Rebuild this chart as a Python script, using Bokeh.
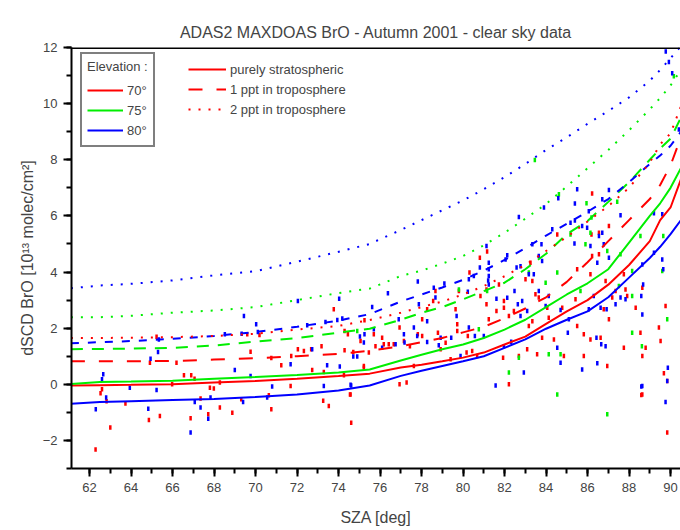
from bokeh.plotting import figure
from bokeh.models import Legend, LegendItem, Span, SingleIntervalTicker, Range1d
from bokeh.embed import file_html
from bokeh.resources import INLINE

# ---- model curves (SZA grid) ----
sza_model = [61.1, 62.5, 64, 66, 68, 70, 72, 74, 75.5, 77, 78, 79, 80, 81, 82, 83, 84, 85, 86, 87, 88, 89, 89.5, 90, 90.5]
red_strat = [-0.04, -0.03, -0.02, 0.0, 0.06, 0.12, 0.2, 0.3, 0.38, 0.6, 0.7, 0.82, 0.95, 1.13, 1.42, 1.7, 2.15, 2.6, 3.0, 3.55, 4.25, 5.1, 5.85, 6.3, 7.3]
green_strat = [0.01, 0.08, 0.1, 0.13, 0.2, 0.26, 0.33, 0.42, 0.53, 0.85, 1.05, 1.25, 1.42, 1.65, 1.95, 2.3, 2.75, 3.2, 3.6, 4.1, 5.05, 6.0, 6.45, 7.0, 7.7]
blue_strat = [-0.69, -0.63, -0.6, -0.56, -0.52, -0.45, -0.36, -0.22, -0.04, 0.3, 0.48, 0.65, 0.82, 1.0, 1.3, 1.6, 1.98, 2.3, 2.6, 3.1, 3.8, 4.5, 4.9, 5.35, 5.85]
red_1ppt = [0.82, 0.82, 0.82, 0.83, 0.88, 0.93, 1.0, 1.08, 1.2, 1.35, 1.5, 1.65, 1.85, 2.05, 2.35, 2.7, 3.1, 3.65, 4.35, 5.1, 5.85, 6.6, 7.1, 7.8, 8.8]
green_1ppt = [1.25, 1.26, 1.27, 1.3, 1.38, 1.52, 1.65, 1.84, 1.98, 2.3, 2.55, 2.75, 3.03, 3.32, 3.62, 4.1, 4.65, 5.35, 5.82, 6.5, 7.2, 8.0, 8.4, 8.75, 9.5]
blue_1ppt = [1.46, 1.5, 1.54, 1.62, 1.72, 1.86, 2.05, 2.27, 2.5, 2.95, 3.2, 3.45, 3.72, 4.05, 4.43, 4.85, 5.3, 5.72, 6.15, 6.6, 7.2, 7.85, 8.15, 8.5, 9.0]
red_2ppt = [1.65, 1.65, 1.66, 1.68, 1.72, 1.8, 1.95, 2.08, 2.29, 2.55, 2.75, 2.95, 3.2, 3.5, 3.85, 4.25, 4.75, 5.25, 5.8, 6.35, 7.0, 7.9, 8.55, 8.94, 9.9]
green_2ppt = [2.39, 2.39, 2.44, 2.55, 2.63, 2.75, 3.0, 3.25, 3.41, 3.86, 4.05, 4.3, 4.57, 4.95, 5.4, 5.9, 6.42, 7.05, 7.7, 8.35, 9.05, 9.8, 10.2, 10.65, 11.2]
blue_2ppt = [3.42, 3.52, 3.58, 3.7, 3.88, 4.03, 4.37, 4.72, 5.0, 5.5, 5.85, 6.2, 6.55, 6.95, 7.38, 7.85, 8.35, 8.8, 9.28, 9.74, 10.22, 10.82, 11.2, 11.62, 12.05]

# ---- measured dSCDs ----
red_sza = [62.29, 63.0, 62.82, 62.6, 62.53, 63.73, 65.39, 64.86, 65.23, 64.91, 66.19, 66.55, 66.9, 67.06, 67.35, 66.87,
           67.72, 67.8, 67.99, 68.28, 68.88, 69.31, 69.76, 69.6, 70.19, 68.28, 65.98, 73.77, 75.25, 74.29, 74.45, 75.06,
           74.71, 74.29, 73.18, 72.68, 72.33, 72.04, 71.72, 71.24, 70.76, 71.69, 72.73, 73.29, 73.26, 73.53, 74.61, 74.55,
           74.26, 70.76, 70.64, 75.22, 74.58, 75.22, 75.7, 75.46, 75.78, 76.1, 76.18, 76.42, 76.66, 76.94, 76.94, 77.28,
           77.44, 77.15, 77.63, 77.82, 78.03, 78.56, 78.27, 78.03, 78.67, 78.79, 78.92, 79.16, 79.64, 79.72, 79.72, 79.4,
           79.8, 80.31, 80.23, 80.44, 80.81, 80.84, 81.13, 81.24, 81.13, 81.16, 81.61, 81.97, 81.97, 82.21, 82.45, 81.73,
           82.21, 81.93, 80.68, 80.17, 84.54, 83.25, 83.01, 83.34, 83.49, 83.65, 84.06, 84.13, 84.78, 83.34, 83.17, 83.81,
           83.57, 83.09, 84.38, 84.86, 85.5, 85.42, 85.5, 86.14, 86.22, 86.19, 86.55, 87.03, 86.87, 87.19, 87.35, 86.78,
           87.03, 86.63, 86.14, 85.82, 85.82, 86.55, 87.75, 87.91, 88.32, 87.75, 87.83, 88.64, 88.55, 88.8, 88.64, 88.64,
           89.44, 89.52, 89.68, 89.84, 89.76, 86.22, 82.69, 86.95, 89.84, 88.59]
red_dscd = [-2.32, -1.54, -0.6, -0.18, -0.32, -0.68, -1.13, -1.27, 1.69, 0.77, 0.77, 0.32, 0.32, 0.2, -0.51, -1.21,
            -1.07, -0.12, -0.15, -0.83, -1.01, -0.53, 1.16, 1.78, 1.76, 0.06, 0.0, 2.67, 2.28, 1.9, 1.78, 1.54,
            1.15, 1.21, 1.36, 1.25, 1.19, 1.25, 1.01, 0.68, 0.94, -0.06, 0.51, 0.44, -0.59, -0.77, -1.37, -0.36,
            0.32, -0.89, -0.39, 0.59, -0.36, 0.65, 1.78, 1.13, 1.36, 1.66, 1.43, 1.43, 1.43, 2.02, 0.0, 0.06,
            1.36, 1.54, 0.65, 1.78, 1.72, 2.97, 2.67, 2.32, 3.32, 1.84, 1.25, 1.48, 2.67, 2.14, 1.9, 0.89,
            3.32, 3.98, 1.72, 1.19, 4.51, 3.15, 2.85, 2.32, 3.38, 4.73, 2.61, 2.97, 2.73, 2.43, 2.61, 3.56,
            0.0, 0.95, 1.01, 1.13, 5.34, 4.33, 3.74, 3.68, 3.21, 3.09, 2.73, 2.37, 2.73, 2.25, 2.08, 1.66,
            1.07, 1.25, 1.6, 1.01, 2.08, 3.03, 4.1, 3.92, 4.57, 5.34, 5.4, 5.64, 3.68, 3.09, 3.32, 2.67,
            2.32, 1.66, 1.6, 1.78, 1.01, 4.63, 3.92, 3.15, 2.73, 1.3, 3.38, 3.44, 1.84, 1.3, 1.01, -0.36,
            2.02, 1.54, 0.39, 0.12, 2.79, 6.8, 1.01, 0.65, -1.72, -0.38]

green_sza = [82.21, 81.16, 80.76, 82.69, 79.8, 86.95, 87.59, 88.15, 88.55, 89.65, 89.84, 89.6, 88.15, 87.51, 85.66,
             83.98, 83.17, 84.54, 85.9, 86.14, 85.18, 84.13, 84.7, 84.54, 86.95, 88.62, 88.15, 83.46, 84.62, 85.95,
             86.19, 87.43, 90.16, 74.9]
green_dscd = [0.42, 3.32, 1.96, 0.95, 3.38, 4.75, 4.63, 4.04, 5.28, 5.28, 2.32, 4.04, 3.15, 3.5, 3.32,
              3.62, 3.98, 3.98, 4.99, 5.4, 5.34, 1.07, 1.07, -0.36, -1.07, 1.36, 1.84, 7.99, 6.77, 6.45,
              5.94, 6.5, 10.98, 1.9]

blue_sza = [62.66, 62.6, 62.3, 62.8, 63.94, 65.23, 64.83, 64.94, 65.3, 65.34, 66.87, 67.35, 67.72, 67.83, 67.07,
            69.0, 69.4, 69.76, 69.44, 70.03, 70.11, 69.33, 68.52, 70.56, 70.8, 72.04, 71.69, 72.73, 73.45, 74.06,
            73.29, 74.61, 74.71, 74.9, 75.03, 74.03, 74.18, 73.94, 73.37, 72.49, 74.58, 77.82, 76.38, 78.59, 79.1,
            80.28, 80.52, 80.81, 81.24, 81.13, 81.24, 81.24, 81.24, 80.23, 82.05, 82.13, 82.58, 82.64, 82.48, 81.61,
            82.13, 75.62, 75.25, 75.22, 75.7, 76.1, 76.9, 77.15, 77.18, 77.63, 77.87, 78.27, 78.27, 78.67, 78.92,
            79.43, 79.69, 79.88, 80.28, 80.57, 81.0, 81.21, 81.57, 81.97, 82.32, 78.83, 77.79, 76.75, 83.34, 83.78,
            82.77, 83.17, 83.41, 83.09, 82.85, 82.77, 83.65, 84.13, 83.98, 84.7, 85.05, 84.54, 84.7, 85.1, 85.37,
            85.39, 85.74, 85.98, 86.55, 86.78, 87.03, 86.14, 86.06, 86.3, 86.63, 86.92, 86.43, 86.66, 86.87, 85.74,
            86.47, 87.35, 87.59, 87.83, 88.64, 88.59, 88.68, 88.64, 88.64, 89.6, 89.76, 89.87, 89.65, 89.2, 86.71,
            85.18, 84.3, 83.81, 83.65, 86.47, 87.03, 84.59, 85.5, 86.71, 86.06, 85.39, 83.9, 82.69, 89.2, 89.6,
            87.59, 90.08, 89.92, 89.77, 90.4, 82.93, 88.59, 89.84]
blue_dscd = [0.36, 0.18, -0.89, -0.47, -0.12, -0.2, -0.87, 0.91, 1.15, 1.6, -1.72, -0.83, -1.23, -0.47, -0.63,
             0.51, -0.63, 0.3, 2.43, 2.14, 1.86, 1.8, 1.78, -0.47, -0.08, 2.97, 0.71, 1.25, 0.68, 0.63,
             -0.06, -0.04, 0.99, 0.99, 1.7, 3.05, 2.34, 2.29, 2.22, 2.1, -0.02, 3.66, 3.24, 3.44, 3.59,
             3.74, 3.86, 4.16, 4.33, 4.93, 4.1, 3.86, 3.56, 3.3, 4.45, 4.6, 4.16, 2.85, 3.32, 3.05,
             3.08, 2.75, 1.78, 1.49, 1.96, 1.3, 2.32, 1.78, 1.49, 2.02, 2.85, 2.25, 1.51, 3.09, 1.66,
             1.66, 2.43, 1.01, 2.02, 1.72, 1.72, 3.7, -0.04, 1.36, 1.52, 1.39, 1.72, 1.43, 4.99, 4.99,
             4.21, 3.92, 3.92, 2.61, 2.97, 2.43, 3.32, 3.15, 2.79, 2.65, 1.84, 1.3, 0.77, 2.32, 5.02,
             5.84, 5.64, 5.58, 5.28, 4.99, 4.51, 4.93, 2.67, 3.15, 2.73, 2.67, 1.66, 1.43, 1.36, 0.53,
             0.75, 2.85, 3.09, 3.03, 2.49, 3.15, 3.56, -0.06, 4.27, 4.45, -0.63, 0.59, 4.1, 4.69, 5.4,
             5.76, 5.52, 4.39, 4.57, 4.33, 6.92, 6.63, 6.95, 6.59, 6.17, 6.44, 6.3, 5.96, 6.09, 6.06,
             6.02, 11.08, 11.48, 11.86, 9.08, 0.42, -0.08, 0.12]

x_ticks_interval = 2
y_ticks_interval = 2
title_text = "ADAS2 MAXDOAS BrO - Autumn 2001 - clear sky data"
x_label = "SZA [deg]"
y_label = "dSCD BrO [10¹³ molec/cm²]"
elev_labels = ["70°", "75°", "80°"]
case_labels = ["purely stratospheric", "1 ppt in troposphere", "2 ppt in troposphere"]

RED, GREEN, BLUE = "#ff0000", "#00ee00", "#0000ff"
FONT = "Liberation Sans"

p = figure(width=680, height=530, output_backend="svg", toolbar_location=None,
           x_range=Range1d(61.13, 90.48), y_range=Range1d(-3, 12),
           min_border_left=71, min_border_right=0, min_border_top=47, min_border_bottom=62,
           title=title_text)
p.background_fill_color = "white"
p.border_fill_color = "white"
p.outline_line_color = None
p.grid.visible = False

p.title.align = "center"
p.title.text_font = FONT
p.title.text_font_size = "16px"
p.title.text_font_style = "normal"
p.title.standoff = 14

for ax, interval in ((p.xaxis[0], x_ticks_interval), (p.yaxis[0], y_ticks_interval)):
    ax.ticker = SingleIntervalTicker(interval=interval, num_minor_ticks=2)
    ax.axis_line_width = 2
    ax.major_tick_line_width = 2
    ax.minor_tick_line_width = 2
    ax.major_tick_in = 0
    ax.major_tick_out = 8
    ax.minor_tick_in = 0
    ax.minor_tick_out = 5
    ax.major_label_text_font = FONT
    ax.major_label_text_font_size = "13px"
    ax.axis_label_text_font = FONT
    ax.axis_label_text_font_size = "16px"
    ax.axis_label_text_font_style = "normal"
    ax.major_label_standoff = 6

p.xaxis.axis_label = x_label
p.xaxis.axis_label_standoff = 14
p.yaxis.axis_label = y_label
p.yaxis.axis_label_standoff = 4

p.add_layout(Span(location=12, dimension="width", line_color="black", line_width=3))

# scatter marks
for xs, ys, c in ((red_sza, red_dscd, RED), (green_sza, green_dscd, GREEN), (blue_sza, blue_dscd, BLUE)):
    p.rect(x=xs, y=ys, width=2.5, height=4.5, width_units="screen", height_units="screen",
           fill_color=c, line_color=None)

# model curves
curves = {}
for name, ys, c, dash in (
        ("r0", red_strat, RED, "solid"), ("g0", green_strat, GREEN, "solid"), ("b0", blue_strat, BLUE, "solid"),
        ("r1", red_1ppt, RED, "14 14"), ("g1", green_1ppt, GREEN, "12 9"), ("b1", blue_1ppt, BLUE, "8 9"),
        ("r2", red_2ppt, RED, "2 8"), ("g2", green_2ppt, GREEN, "2 8"), ("b2", blue_2ppt, BLUE, "2 8")):
    curves[name] = p.line(sza_model, ys, line_color=c, line_width=2, line_dash=dash)

leg1 = Legend(items=[LegendItem(label=elev_labels[0], renderers=[curves["r0"]]),
                     LegendItem(label=elev_labels[1], renderers=[curves["g0"]]),
                     LegendItem(label=elev_labels[2], renderers=[curves["b0"]])],
              title="Elevation :", location=(9, 321))
leg2 = Legend(items=[LegendItem(label=case_labels[0], renderers=[curves["r0"]]),
                     LegendItem(label=case_labels[1], renderers=[curves["r1"]]),
                     LegendItem(label=case_labels[2], renderers=[curves["r2"]])],
              location=(117, 349))
for lg in (leg1, leg2):
    lg.label_text_font = FONT
    lg.label_text_font_size = "13px"
    lg.title_text_font = FONT
    lg.title_text_font_size = "13px"
    lg.title_text_font_style = "normal"
    lg.title_standoff = 6
    lg.spacing = 0
    lg.label_height = 20
    lg.glyph_height = 20
    lg.label_standoff = 4
    lg.margin = 0
leg1.padding = 5
leg1.glyph_width = 36
leg1.border_line_color = "black"
leg1.border_line_width = 2
leg1.background_fill_alpha = 1.0
leg2.padding = 0
leg2.glyph_width = 38
leg2.border_line_color = None
leg2.background_fill_alpha = 0.0
p.add_layout(leg1)
p.add_layout(leg2)

open("out.html", "w").write(file_html(p, INLINE))
